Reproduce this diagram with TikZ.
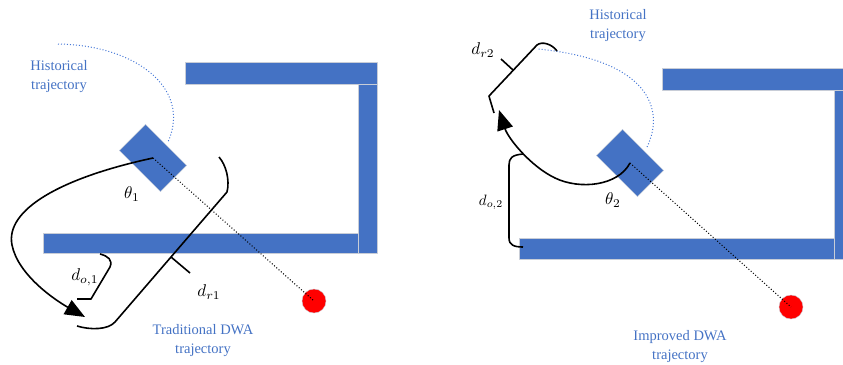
\documentclass[tikz,border=0pt]{standalone}
\usepackage{graphicx}
\usepackage{fontspec}
\setmainfont{Liberation Serif}
\usetikzlibrary{arrows.meta}
\newcommand\symb[2][1.7]{\scalebox{#1}{$#2$}}
\definecolor{wall_blue}{RGB}{68,114,196}
\definecolor{edge_gray}{RGB}{200,205,215}
\definecolor{hist_blue}{RGB}{70,120,215}
\definecolor{goal_red}{RGB}{255,0,0}

\begin{document}
\begin{tikzpicture}[x=1pt,y=-1pt,line join=round]
    \tikzstyle{wall}=[fill=wall_blue, draw=edge_gray, line width=0.6pt]
    \tikzstyle{robot}=[draw=edge_gray, fill=wall_blue, rectangle, minimum width=58pt, minimum height=37pt, inner sep=0pt, rotate=-45]
    \tikzstyle{goal}=[draw=edge_gray, fill=goal_red, circle, minimum size=24pt, inner sep=0pt]
    \tikzstyle{note}=[text=wall_blue, align=center, font=\fontsize{14.5}{19}\selectfont]
    \tikzstyle{sym}=[text=black, inner sep=1pt]
    \tikzstyle{traj}=[black, line width=1.6pt]
    \tikzstyle{aim}=[black, dotted, line width=1pt]
    \tikzstyle{hist}=[hist_blue, dotted, line width=1pt]
    \tikzstyle{tip}=[-{Triangle[length=20pt,width=16pt]}]

    \useasboundingbox (0,0) rectangle (843,364);

    % traditional DWA
    \draw[wall] (185,62) rectangle (377,84);
    \draw[wall] (358,84) rectangle (377,253);
    \draw[wall] (43,233) rectangle (358,253);
    \node[robot] (r1) at (153,158) {};
    \node[goal]  (g1) at (314,301) {};
    \coordinate (h1) at (58,44);
    \coordinate (h1e) at (168,142);

    \node[note] (hl1) at (59,77)   {Historical\\trajectory};
    \node[note] (tl1) at (203,341) {Traditional DWA\\trajectory};
    \node[sym]  (th1) at (132,194) {\symb{\theta_1}};
    \node[sym]  (do1) at (85,277)  {\symb{d_{o,1}}};
    \node[sym]  (dr1) at (209,292) {\symb{d_{r1}}};

    \draw[hist] (h1) .. controls (135,45) and (192,88) .. (h1e);
    \draw[aim]  (r1.center) -- (g1.center);
    \draw[traj,tip] (r1.center) .. controls (60,178) and (5,210) .. (12,245)
                                .. controls (18,275) and (55,300) .. (85,317);
    \draw[traj] (219,157) .. controls (226,165) and (230,180) .. (227,192)
                -- (115,322) .. controls (108,330) and (90,330) .. (77,326);
    \draw[traj] (171,257) -- (190,273);
    \draw[traj] (100,254) .. controls (108,256) and (113,260) .. (110,267)
                -- (91,299) -- (77,299);

    % improved DWA
    \draw[wall] (662,68) rectangle (843,90);
    \draw[wall] (834,90) rectangle (843,259);
    \draw[wall] (519,238) rectangle (834,259);
    \node[robot] (r2) at (630,163) {};
    \node[goal]  (g2) at (791,307) {};
    \coordinate (h2) at (647,147);
    \coordinate (h2e) at (538,49);

    \node[note] (hl2) at (618,26)  {Historical\\trajectory};
    \node[note] (tl2) at (680,347) {Improved DWA\\trajectory};
    \node[sym]  (th2) at (613,200) {\symb{\theta_2}};
    \node[sym]  (do2) at (491,202) {\symb[1.5]{d_{o,2}}};
    \node[sym]  (dr2) at (483,50)  {\symb{d_{r2}}};

    \draw[hist] (h2) .. controls (665,110) and (650,60) .. (h2e);
    \draw[aim]  (r2.center) -- (g2.center);
    \draw[traj,tip] (r2.center) .. controls (618,186) and (580,190) .. (555,178)
                                .. controls (530,166) and (508,138) .. (499,110);
    \draw[traj] (494,113) .. controls (492,106) and (490,100) .. (489,96)
                -- (537,45) .. controls (542,41) and (552,44) .. (557,51);
    \draw[traj] (513,70) -- (501,59);
    \draw[traj] (523,154) .. controls (512,155) and (509,158) .. (509,165)
                -- (509,238) .. controls (509,245) and (514,247) .. (523,247);
\end{tikzpicture}
\end{document}
